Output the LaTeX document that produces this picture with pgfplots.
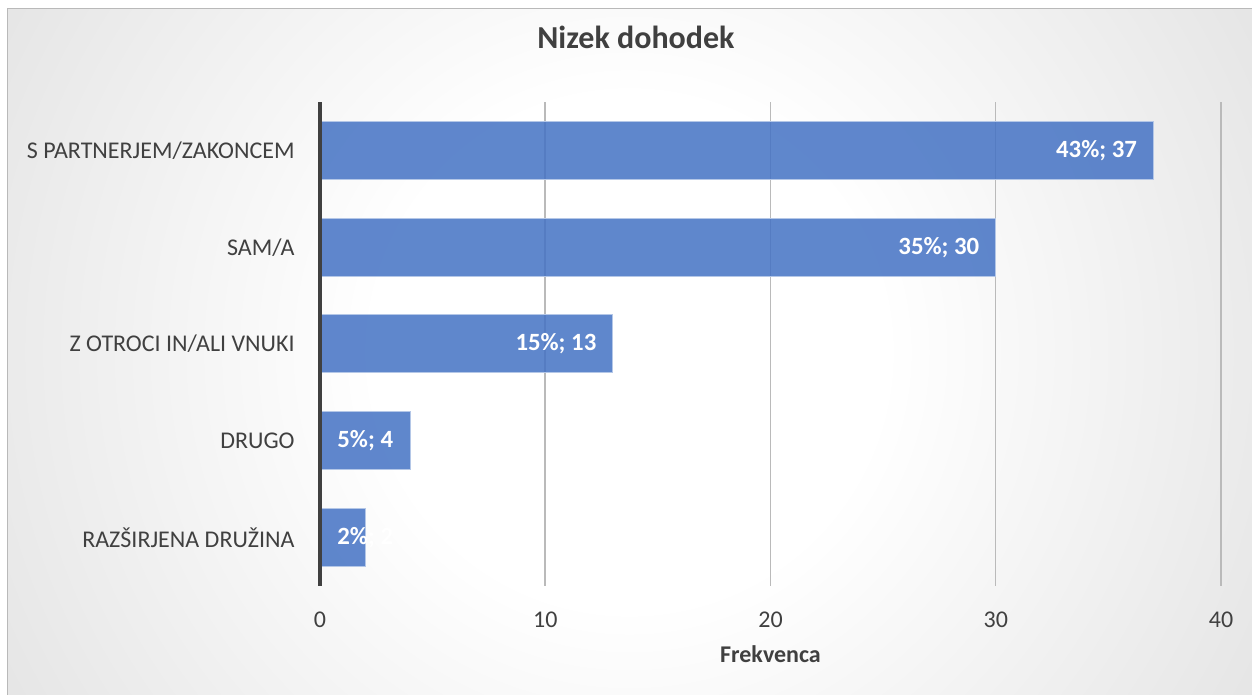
\documentclass[border=0pt]{standalone}
\usepackage{pgfplots}
\pgfplotsset{compat=1.18}
\usepackage{fontspec}
\setmainfont{Carlito}

\definecolor{barblue}{HTML}{4472C4}
\definecolor{txt}{HTML}{404040}
\definecolor{gridc}{HTML}{BABABA}
\definecolor{bggray}{HTML}{BEBEBE}
\pgfdeclareradialshading{bgshade}{\pgfpoint{0bp}{0bp}}{color(0bp)=(white); color(9bp)=(white); color(50bp)=(bggray); color(100bp)=(bggray)}

% a semicolon that pgfplots does not see while it stores the labels
\protected\def\semi{;}

\begin{document}
\begin{tikzpicture}
    % background: 1px of the reference = 0.5pt, origin at the axis' lower left corner
    \fill[white] (-160pt,-54.5pt) rectangle (466pt,293pt);
    \begin{scope}
        \clip (-156pt,-54.5pt) rectangle (466pt,288.5pt);
        \shade[shading=bgshade] (-200pt,-237.5pt) rectangle (509pt,471.5pt);
    \end{scope}
    \draw[gray!55, line width=0.5pt] (-156pt,-54.5pt) -- (-156pt,288.5pt) -- (466pt,288.5pt);

    \begin{axis}[
        at={(0pt,0pt)}, anchor=south west,
        scale only axis,
        width=450.5pt, height=242pt,
        xmin=0, xmax=40, ymin=-0.5, ymax=4.5,
        clip=false,
        axis line style={draw=none},
        major tick length=0pt,
        xtick={0,10,20,30,40},
        ytick={0,1,2,3,4},
        yticklabels={RAZŠIRJENA DRUŽINA, DRUGO, Z OTROCI IN/ALI VNUKI, SAM/A, S PARTNERJEM/ZAKONCEM},
        xmajorgrids,
        major grid style={gridc, line width=0.75pt},
        /pgf/number format/assume math mode=true,
        xticklabel style={anchor=base, yshift=-20.75pt, font=\fontsize{12}{14}\selectfont, text=txt},
        yticklabel style={anchor=east, inner sep=0pt, xshift=-12.5pt, font=\fontsize{12}{14}\selectfont, text=txt},
        title={Nizek dohodek},
        title style={at={(axis description cs:0.3507,1.1085)}, anchor=center, font=\bfseries\fontsize{16}{19}\selectfont, text=txt},
        xlabel={Frekvenca},
        xlabel style={at={(axis description cs:0.5,-0.1415)}, anchor=center, font=\bfseries\fontsize{12}{14}\selectfont, text=txt},
    ]
        \addplot[xbar, bar shift=0pt, bar width=29pt,
            fill=barblue, fill opacity=0.85, draw=barblue!40!white, line width=0.5pt,
            nodes near coords, point meta=explicit symbolic,
            every node near coord/.append style={anchor=east, inner sep=0pt, xshift=-8pt, text=white,
                fill opacity=1, text opacity=1, font=\bfseries\fontsize{12.4}{14}\selectfont}]
        coordinates {
            (37,4) [43\%\semi{} 37]
            (30,3) [35\%\semi{} 30]
            (13,2) [15\%\semi{} 13]
            (4,1) []
            (2,0) []
        };
        % labels of the short bars start at the bar base
        \addplot[draw=none, mark=none,
            nodes near coords, point meta=explicit symbolic,
            every node near coord/.append style={anchor=west, inner sep=0pt, xshift=8.5pt, text=white,
                font=\bfseries\fontsize{12.4}{14}\selectfont}]
        coordinates {
            (0,1) [5\%\semi{} 4]
            (0,0) [2\%\semi{} 2]
        };
        % vertical axis line
        \addplot[txt, line width=1.9pt, mark=none] coordinates {(0,-0.5) (0,4.5)};
    \end{axis}

    \pgfresetboundingbox
    \path (-160pt,-54.5pt) rectangle (466pt,293pt);
\end{tikzpicture}
\end{document}
